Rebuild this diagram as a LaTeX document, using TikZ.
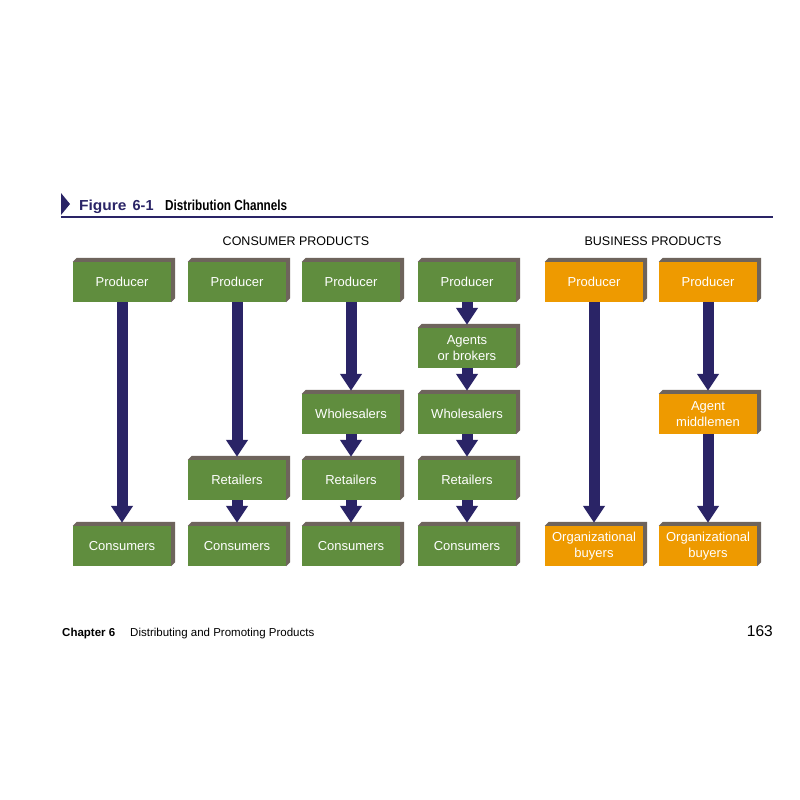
\documentclass[tikz,border=0pt]{standalone}
\usepackage{fontspec}
\setmainfont{Liberation Sans}
\usetikzlibrary{arrows.meta,calc}
\definecolor{grn}{RGB}{96,141,62}
\definecolor{org}{RGB}{238,154,0}
\definecolor{sidec}{RGB}{110,100,92}
\definecolor{navy}{RGB}{42,36,102}
\tikzset{
  chbox/.style={rectangle,minimum width=98pt,minimum height=40pt,inner sep=0pt,
    text=white,align=center,font=\fontsize{13}{15.5}\selectfont},
  sideface/.style={fill=sidec},
  flow/.style={draw=navy,line width=11pt,-{Triangle[length=17pt,width=21pt]}},
  hdr/.style={font=\fontsize{12.5}{15}\selectfont,inner sep=0pt},
}
\newcommand\chbx[5]{%
  \node[chbox,fill=#4] (#1) at (#2,#3) {#5};
  \fill[sideface] (#1.north west) -- ++(4,-4) -- ([shift={(4,-4)}]#1.north east)
    -- ([shift={(4,-4)}]#1.south east) -- (#1.south east) -- (#1.north east) -- cycle;
}
\begin{document}
\begin{tikzpicture}[x=1pt,y=-1pt]
\useasboundingbox[fill=white] (0,0) rectangle (800,800);
% title
\fill[navy] (61,193) -- (70,204) -- (61,215) -- cycle;
\draw[navy,line width=1.5pt] (61,217) -- (773,217);
\node[anchor=base west,inner sep=0pt,text=navy,font=\fontsize{14.5}{16}\selectfont\bfseries] (fig) at (79,210)
  {\scalebox{1.07}[1]{Figure}\hspace{6pt}\scalebox{1.0}[1]{6-1}};
\node[anchor=base west,inner sep=0pt,font=\fontsize{14.5}{16}\selectfont\bfseries] (ttl) at (165,210)
  {\scalebox{0.81}[1]{Distribution Channels}};
\node[hdr] (cp) at (296,241) {CONSUMER PRODUCTS};
\node[hdr] (bp) at (653,241) {BUSINESS PRODUCTS};
% boxes
\chbx{p1}{122}{282}{grn}{Producer}
\chbx{p2}{237}{282}{grn}{Producer}
\chbx{p3}{351}{282}{grn}{Producer}
\chbx{p4}{467}{282}{grn}{Producer}
\chbx{p5}{594}{282}{org}{Producer}
\chbx{p6}{708}{282}{org}{Producer}
\chbx{a4}{467}{348}{grn}{Agents\\or brokers}
\chbx{w3}{351}{414}{grn}{Wholesalers}
\chbx{w4}{467}{414}{grn}{Wholesalers}
\chbx{a6}{708}{414}{org}{Agent\\middlemen}
\chbx{r2}{237}{480}{grn}{Retailers}
\chbx{r3}{351}{480}{grn}{Retailers}
\chbx{r4}{467}{480}{grn}{Retailers}
\chbx{c1}{122}{546}{grn}{Consumers}
\chbx{c2}{237}{546}{grn}{Consumers}
\chbx{c3}{351}{546}{grn}{Consumers}
\chbx{c4}{467}{546}{grn}{Consumers}
\chbx{o5}{594}{546}{org}{Organizational\\buyers}
\chbx{o6}{708}{546}{org}{Organizational\\buyers}
% arrows
\foreach \s/\t in {p1/c1,p2/r2,r2/c2,p3/w3,w3/r3,r3/c3,p4/a4,a4/w4,w4/r4,r4/c4,p5/o5,p6/a6,a6/o6}
  \draw[flow] (\s.south) -- ($(\t.north)+(0,-3)$);
% footer
\node[anchor=base west,inner sep=0pt,font=\fontsize{11.5}{14}\selectfont\bfseries] (ch) at (62,636) {Chapter 6};
\node[anchor=base west,inner sep=0pt,font=\fontsize{11.5}{14}\selectfont] (cht) at (130,636) {Distributing and Promoting Products};
\node[anchor=base east,inner sep=0pt,font=\fontsize{15.5}{18}\selectfont] (pg) at (773,636) {163};
\end{tikzpicture}
\end{document}
